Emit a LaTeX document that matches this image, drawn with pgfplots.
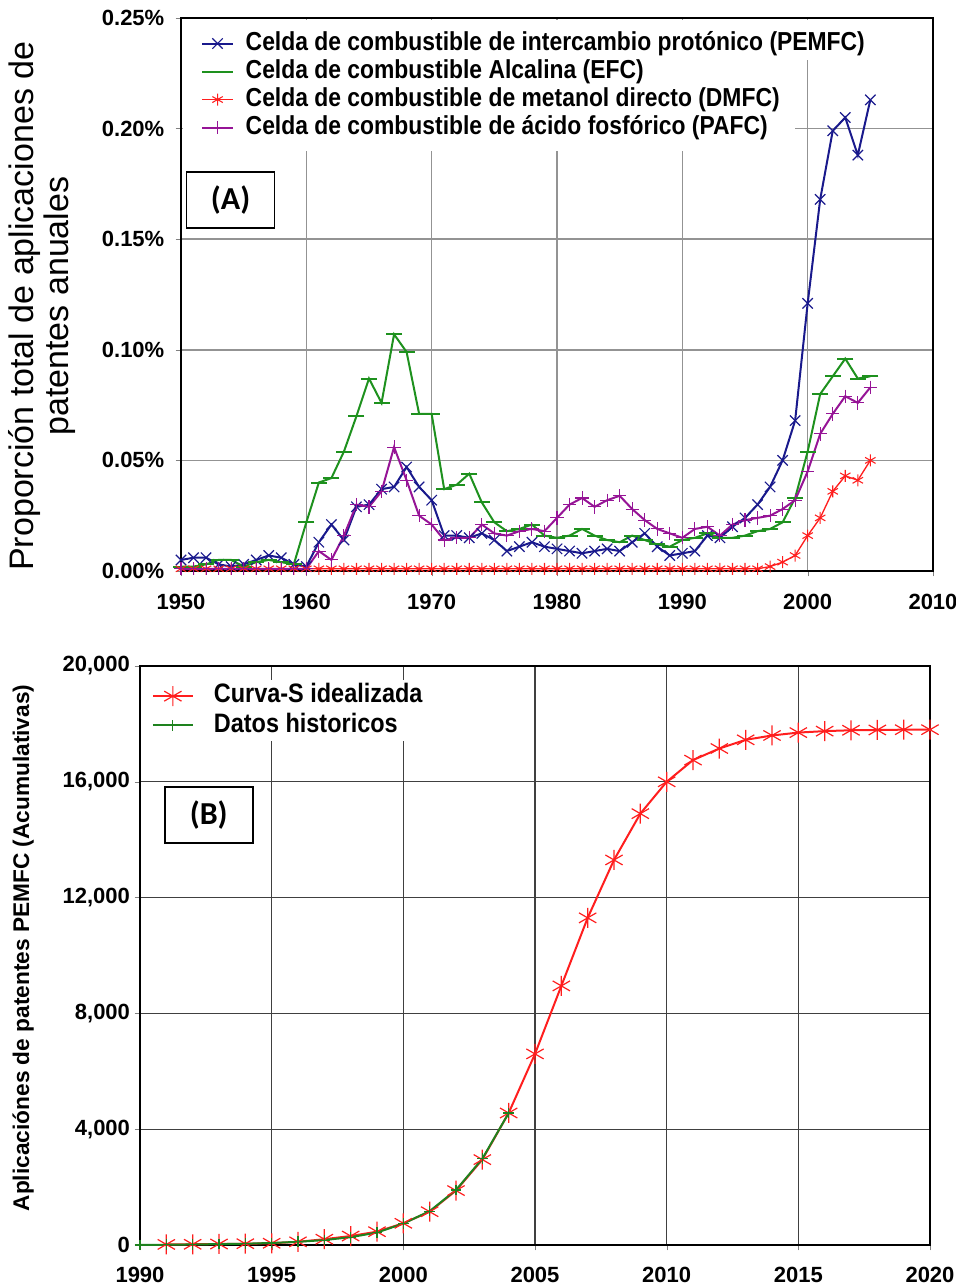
\documentclass[border=0pt]{standalone}
\usepackage{pgfplots}
\pgfplotsset{compat=1.18}
\usepackage{fontspec}
\setmainfont{Liberation Sans}
\newfontfamily\calib{Carlito}
\newfontfamily\condfont{Liberation Sans}[FakeStretch=0.88]
\definecolor{cblue}{RGB}{25,25,140}
\definecolor{cgreen}{RGB}{30,145,30}
\definecolor{cred}{RGB}{255,30,30}
\definecolor{cpurple}{RGB}{150,20,150}
\definecolor{hgreen}{RGB}{30,130,30}
\begin{document}
\begin{tikzpicture}
\useasboundingbox (0,0) rectangle (717pt,966pt);
% ---------------- (A) ----------------
\begin{axis}[
  at={(135.75pt,537.75pt)}, anchor=south west,
  scale only axis, width=564pt, height=414.75pt,
  xmin=1950, xmax=2010, ymin=0, ymax=0.25,
  xtick={1950,1960,...,2010}, ytick={0,0.05,0.1,0.15,0.2,0.25},
  /pgf/number format/assume math mode=true,
  yticklabel={\pgfmathprintnumber[fixed,fixed zerofill,precision=2]{\tick}\%},
  xticklabel style={/pgf/number format/1000 sep={}, yshift=-10pt},
  yticklabel style={xshift=-5pt},
  grid=major, major grid style={gray!85, line width=1.2pt},
  axis line style={line width=1.2pt},
  tick align=outside, tick pos=left, major tick length=4pt,
  tick label style={font=\bfseries\fontsize{16.5}{18}\selectfont},
  clip=false,
  ylabel={Proporción total de aplicaciones de\\patentes anuales},
  ylabel style={align=center, font=\fontsize{25.5}{26}\selectfont, at={(axis description cs:-0.185,0.479)}, anchor=center},
  legend style={at={(axis description cs:0.025,0.982)}, anchor=north west, draw=none, fill=none,
    font=\condfont\bfseries\fontsize{19.5}{21}\selectfont, row sep=0pt, inner sep=1pt,
    nodes={text height=14.5pt, text depth=4.5pt, inner sep=1pt},
    /tikz/every odd column/.append style={column sep=8pt}},
  legend cell align=left,
  legend image code/.code={\draw[mark repeat=2,mark phase=2] plot coordinates {(0cm,0cm) (0.4cm,0cm) (0.8cm,0cm)};},
]
\fill[white] (axis cs:1950.15,0.249) rectangle (axis cs:1999,0.190);
\fill[white] (axis cs:1999,0.249) rectangle (axis cs:2005.4,0.231);
\addplot[cblue, line width=1.5pt, mark=x, mark size=5.5pt, mark options={line width=0.9pt}] table {
1950 0.005
1951 0.006
1952 0.006
1953 0.003
1954 0.002
1955 0.003
1956 0.005
1957 0.007
1958 0.006
1959 0.003
1960 0.002
1961 0.013
1962 0.021
1963 0.014
1964 0.029
1965 0.030
1966 0.037
1967 0.038
1968 0.047
1969 0.038
1970 0.032
1971 0.016
1972 0.016
1973 0.015
1974 0.017
1975 0.014
1976 0.009
1977 0.011
1978 0.013
1979 0.011
1980 0.010
1981 0.009
1982 0.008
1983 0.009
1984 0.010
1985 0.009
1986 0.013
1987 0.017
1988 0.011
1989 0.007
1990 0.008
1991 0.009
1992 0.016
1993 0.015
1994 0.020
1995 0.024
1996 0.030
1997 0.038
1998 0.050
1999 0.068
2000 0.121
2001 0.168
2002 0.199
2003 0.205
2004 0.188
2005 0.213
};
\addlegendentry{Celda de combustible de intercambio protónico (PEMFC)}
\addplot[cgreen, line width=1.5pt, mark=-, mark size=6pt, mark options={line width=1.5pt}] table {
1950 0.002
1951 0.002
1952 0.003
1953 0.005
1954 0.005
1955 0.002
1956 0.004
1957 0.005
1958 0.004
1959 0.003
1960 0.022
1961 0.040
1962 0.042
1963 0.054
1964 0.070
1965 0.087
1966 0.076
1967 0.107
1968 0.099
1969 0.071
1970 0.071
1971 0.037
1972 0.039
1973 0.044
1974 0.031
1975 0.022
1976 0.018
1977 0.019
1978 0.021
1979 0.016
1980 0.015
1981 0.016
1982 0.019
1983 0.016
1984 0.014
1985 0.013
1986 0.016
1987 0.014
1988 0.012
1989 0.011
1990 0.014
1991 0.015
1992 0.017
1993 0.015
1994 0.015
1995 0.016
1996 0.018
1997 0.019
1998 0.022
1999 0.033
2000 0.054
2001 0.080
2002 0.088
2003 0.096
2004 0.087
2005 0.088
};
\addlegendentry{Celda de combustible Alcalina (EFC)}
\addplot[cred, line width=1pt, mark=asterisk, mark size=4.5pt, mark options={line width=0.8pt}] table {
1950 0.001
1951 0.001
1952 0.001
1953 0.001
1954 0.001
1955 0.001
1956 0.001
1957 0.001
1958 0.001
1959 0.001
1960 0.001
1961 0.001
1962 0.001
1963 0.001
1964 0.001
1965 0.001
1966 0.001
1967 0.001
1968 0.001
1969 0.001
1970 0.001
1971 0.001
1972 0.001
1973 0.001
1974 0.001
1975 0.001
1976 0.001
1977 0.001
1978 0.001
1979 0.001
1980 0.001
1981 0.001
1982 0.001
1983 0.001
1984 0.001
1985 0.001
1986 0.001
1987 0.001
1988 0.001
1989 0.001
1990 0.001
1991 0.001
1992 0.001
1993 0.001
1994 0.001
1995 0.001
1996 0.001
1997 0.002
1998 0.004
1999 0.007
2000 0.016
2001 0.024
2002 0.036
2003 0.043
2004 0.041
2005 0.050
};
\addlegendentry{Celda de combustible de metanol directo (DMFC)}
\addplot[cpurple, line width=1.5pt, mark=+, mark size=5pt, mark options={line width=0.8pt}] table {
1950 0.001
1951 0.001
1952 0.001
1953 0.001
1954 0.001
1955 0.001
1956 0.001
1957 0.001
1958 0.001
1959 0.001
1960 0.001
1961 0.009
1962 0.005
1963 0.016
1964 0.030
1965 0.029
1966 0.036
1967 0.056
1968 0.041
1969 0.025
1970 0.021
1971 0.014
1972 0.015
1973 0.015
1974 0.021
1975 0.017
1976 0.016
1977 0.018
1978 0.019
1979 0.018
1980 0.024
1981 0.030
1982 0.033
1983 0.029
1984 0.032
1985 0.034
1986 0.028
1987 0.023
1988 0.019
1989 0.017
1990 0.015
1991 0.019
1992 0.020
1993 0.016
1994 0.021
1995 0.023
1996 0.024
1997 0.025
1998 0.028
1999 0.032
2000 0.045
2001 0.062
2002 0.071
2003 0.079
2004 0.076
2005 0.083
};
\addlegendentry{Celda de combustible de ácido fosfórico (PAFC)}
\node[draw, line width=1.2pt, fill=white, minimum width=66pt, minimum height=42pt, font=\calib\bfseries\fontsize{24}{26}\selectfont] at (rel axis cs:0.066,0.671) {(A)};
\end{axis}
% ---------------- (B) ----------------
\begin{axis}[
  at={(105pt,32.25pt)}, anchor=south west,
  scale only axis, width=592.5pt, height=434.25pt,
  xmin=1990, xmax=2020, ymin=0, ymax=20000,
  xtick={1990,1995,...,2020}, ytick={0,4000,...,20000},
  scaled y ticks=false,
  /pgf/number format/assume math mode=true,
  xticklabel style={/pgf/number format/1000 sep={}, yshift=-9pt},
  grid=major, major grid style={black!75, line width=0.9pt},
  axis line style={line width=1.5pt},
  tick align=outside, tick pos=left, major tick length=4pt,
  tick label style={font=\bfseries\fontsize{16.5}{18}\selectfont},
  clip=false,
  ylabel={Aplicaciónes de patentes PEMFC (Acumulativas)},
  ylabel style={font=\bfseries\fontsize{17}{19}\selectfont, at={(axis description cs:-0.148,0.513)}, anchor=center},
  legend style={at={(axis description cs:0.013,0.976)}, anchor=north west, draw=none, fill=white,
    font=\condfont\bfseries\fontsize{20}{22}\selectfont, row sep=0pt, inner sep=1pt,
    nodes={text height=15pt, text depth=5pt, inner sep=1pt},
    /tikz/every odd column/.append style={column sep=14pt}},
  legend cell align=left,
  legend image code/.code={\draw[mark repeat=2,mark phase=2] plot coordinates {(0pt,0pt) (15pt,0pt) (30pt,0pt)};},
]
\addplot[cred, line width=1.5pt, mark=asterisk, mark size=7.5pt, mark options={line width=0.9pt}] table {
1991 20
1992 25
1993 35
1994 45
1995 60
1996 110
1997 200
1998 310
1999 460
2000 750
2001 1150
2002 1880
2003 2950
2004 4560
2005 6600
2006 8950
2007 11300
2008 13300
2009 14900
2010 16000
2011 16750
2012 17150
2013 17450
2014 17600
2015 17700
2016 17750
2017 17780
2018 17790
2019 17800
2020 17800
};
\addlegendentry{Curva-S idealizada}
\addplot[hgreen, line width=1.5pt, mark=+, mark size=4pt, mark options={line width=0.8pt}] table {
1990 0
1991 10
1992 20
1993 30
1994 45
1995 70
1996 110
1997 170
1998 270
1999 430
2000 740
2001 1170
2002 1900
2003 2980
2004 4560
};
\addlegendentry{Datos historicos}
\node[draw, line width=1.2pt, fill=white, minimum width=66pt, minimum height=42pt, font=\calib\bfseries\fontsize{24}{26}\selectfont] at (rel axis cs:0.087,0.743) {(B)};
\end{axis}
\end{tikzpicture}
\end{document}
